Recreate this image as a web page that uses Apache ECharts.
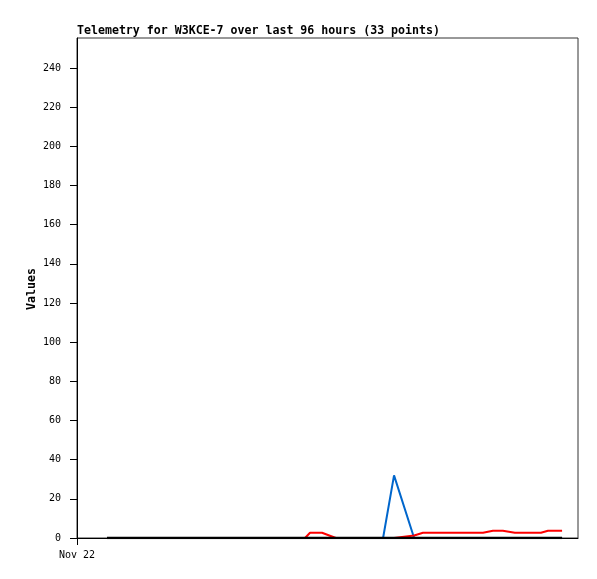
<!DOCTYPE html>
<html>
<head>
<meta charset="utf-8">
<script src="https://cdn.jsdelivr.net/npm/echarts@6/dist/echarts.min.js"></script>
<style>html,body{margin:0;padding:0;background:#fff}#c{width:597px;height:579px}</style>
</head>
<body>
<div id="c"></div>
<script>
// hours since start of Nov 22
var hours = [5.75, 8.9, 12.05, 15.2, 18.3, 21.45, 24.6, 27.75, 30.9, 34.05, 37.2, 40.3,
  43.7, 44.65, 46.95, 49.6, 52.3, 55.2, 58.65, 60.75, 64.6, 66.3,
  69.0, 71.85, 74.7, 77.8, 79.7, 81.6, 83.9, 86.4, 88.9, 90.25, 92.95];
var blackVals = [0,0,0,0,0,0,0,0,0,0,0,0, 0,0,0,0,0,0,0,0,0,0, 0,0,0,0,0,0,0,0,0,0,0];
var blueVals  = [0,0,0,0,0,0,0,0,0,0,0,0, 0,0,0,0,0,0,0,32,0,0, 0,0,0,0,0,0,0,0,0,0,0];
var redVals   = [0,0,0,0,0,0,0,0,0,0,0,0, 0,2.7,2.7,0,0,0,0,0,1.3,2.7, 2.7,2.7,2.7,2.7,3.7,3.7,2.7,2.7,2.7,3.7,3.7];
var yTicks = [0,20,40,60,80,100,120,140,160,180,200,220,240];
var xTickLabel = 'Nov 22';
var yTitle = 'Values';
var titleText = 'Telemetry for W3KCE-7 over last 96 hours (33 points)';

function pairs(v){ return hours.map(function(h,i){ return [h, v[i]]; }); }
var mono = '"DejaVu Sans Mono", monospace';
var chart = echarts.init(document.getElementById('c'));
chart.setOption({
  animation: false,
  backgroundColor: '#fff',
  title: {
    text: titleText, left: 72, top: 20,
    textStyle: {fontFamily: mono, fontSize: 11.6, fontWeight: 'bold', color: '#000'}
  },
  graphic: [{
    type: 'text', x: 32, y: 289, rotation: Math.PI / 2,
    style: {text: yTitle, fontFamily: mono, fontSize: 11.6, fontWeight: 'bold', fill: '#000',
      align: 'center', verticalAlign: 'middle'}
  }],
  grid: {left: 77, right: 19, top: 38, bottom: 41, show: true, borderColor: '#333', borderWidth: 1, backgroundColor: 'transparent'},
  xAxis: {
    type: 'value', min: 0, max: 96,
    splitLine: {show: false},
    axisLine: {lineStyle: {color: '#000', width: 1}},
    axisTick: {length: 7, lineStyle: {color: '#000'}, customValues: [0]},
    axisLabel: {customValues: [0], formatter: function(){ return xTickLabel; }, margin: 12,
      fontFamily: mono, fontSize: 10, color: '#000'}
  },
  yAxis: {
    type: 'value', min: 0, max: 255.3,
    splitLine: {show: false},
    axisLine: {show: true, lineStyle: {color: '#000', width: 1}},
    axisTick: {show: true, length: 7, lineStyle: {color: '#000'}, customValues: yTicks},
    axisLabel: {customValues: yTicks, margin: 16, fontFamily: mono, fontSize: 10, color: '#000'}
  },
  series: [
    {type: 'line', data: pairs(blueVals), showSymbol: false, symbol: 'none', lineStyle: {color: '#0066cc', width: 2}, z: 2},
    {type: 'line', data: pairs(redVals), showSymbol: false, symbol: 'none', lineStyle: {color: '#ff0000', width: 2}, z: 3},
    {type: 'line', data: pairs(blackVals), showSymbol: false, symbol: 'none', lineStyle: {color: '#000', width: 2.5}, z: 4}
  ]
});
</script>
</body>
</html>
